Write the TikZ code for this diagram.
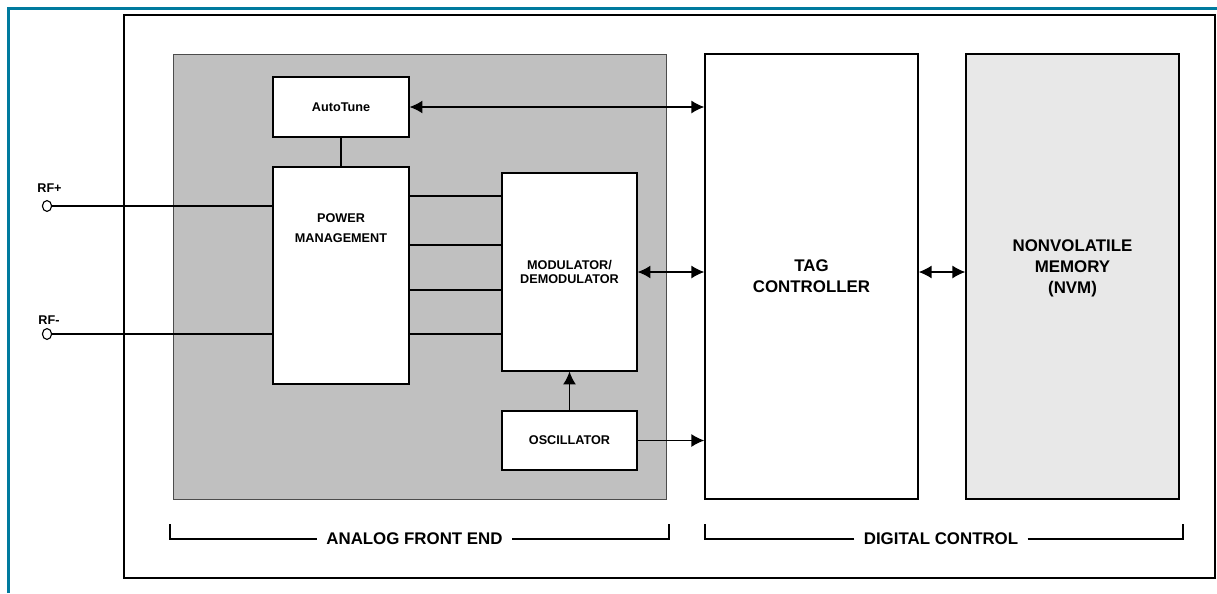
\documentclass[tikz,border=0pt]{standalone}
\usepackage{fontspec}
\setmainfont{Liberation Sans}
\usetikzlibrary{arrows.meta}
\usetikzlibrary{calc}

\definecolor{frameblue}{RGB}{0,122,158}
\definecolor{afegray}{RGB}{192,192,192}
\definecolor{nvmgray}{RGB}{232,232,232}

\tikzset{
  blk/.style = {draw, fill = white, line width = 0.8pt, inner sep = 0pt,
    align = center, font = \bfseries\fontsize{9}{10.6}\selectfont},
  big/.style = {font = \bfseries\fontsize{12}{15}\selectfont, align = center},
  lbl/.style = {font = \bfseries\fontsize{9}{10.6}\selectfont, inner sep = 0pt},
  port/.style = {draw, ellipse, fill = white, line width = 0.8pt,
    minimum width = 0.23cm, minimum height = 0.27cm, inner sep = 0pt},
  bus/.style = {line width = 0.8pt},
  arr/.style = {line width = 0.8pt, -{Latex[length = 0.32cm, width = 0.32cm]}},
  darr/.style = {line width = 0.8pt,
    {Latex[length = 0.32cm, width = 0.32cm]}-{Latex[length = 0.32cm, width = 0.32cm]}}
}

\usetikzlibrary{shapes.geometric}

\begin{document}
\begin{tikzpicture}[x = 0.025cm, y = -0.025cm]
  \useasboundingbox (0, 0) rectangle (1217, 593);

  % frame and chip outline
  \draw[frameblue, line width = 1.9pt] (8.5, 593) -- (8.5, 8.5) -- (1217, 8.5);
  \node[draw, line width = 1.6pt, inner sep = 0pt, minimum width = 27.275cm,
    minimum height = 14.075cm] (chip) at (669.5, 296.5) {};

  % analog front end
  \node[draw = black!70, fill = afegray, line width = 0.6pt, inner sep = 0pt,
    minimum width = 12.325cm, minimum height = 11.125cm] (afe) at (419.5, 276.5) {};
  \node[blk, minimum width = 3.4cm, minimum height = 1.5cm] (tune) at (341, 107)
  {AutoTune};
  \node[blk, minimum width = 3.4cm, minimum height = 5.425cm] (pm) at (341, 275.5) {};
  \node[font = \bfseries\fontsize{9}{14.2}\selectfont, align = center] (pmtext)
  at (341, 228) {POWER\\MANAGEMENT};
  \node[blk, minimum width = 3.375cm, minimum height = 4.95cm] (mod) at (569.5, 272)
  {MODULATOR/\\DEMODULATOR};
  \node[blk, minimum width = 3.375cm, minimum height = 1.475cm] (osc)
  at (569.5, 440.5) {OSCILLATOR};

  % digital control
  \node[blk, big, line width = 1pt, minimum width = 5.325cm,
    minimum height = 11.125cm] (tag) at (811.5, 276.5) {TAG\\CONTROLLER};
  \node[blk, fill = nvmgray, line width = 1pt, minimum width = 5.325cm,
    minimum height = 11.125cm] (nvm) at (1072.5, 276.5) {};
  \node[big] (nvmtext) at (1072.5, 268) {NONVOLATILE\\MEMORY\\(NVM)};

  % connections
  \draw[bus] (tune) -- (pm);
  \foreach \y in {196, 245, 290, 334}{
    \path (0, \y) coordinate (ly);
    \draw[bus] (pm.east |- ly) -- (mod.west |- ly);
  }
  \draw[arr] (osc) -- (mod);
  \draw[arr] (osc.east) -- (osc.east -| tag.west);
  \draw[darr] (tune.east) -- (tune.east -| tag.west);
  \draw[darr] (mod.east) -- (mod.east -| tag.west);
  \draw[darr] (mod.east -| tag.east) -- (mod.east -| nvm.west);

  % RF pins
  \node[port] (rfp) at (47, 206) {};
  \node[port] (rfm) at (47, 334) {};
  \node[lbl] (rfplbl) at (49.5, 188) {RF+};
  \node[lbl] (rfmlbl) at (49, 320) {RF-};
  \draw[bus] (rfp) -- (rfp -| pm.west);
  \draw[bus] (rfm) -- (rfm -| pm.west);

  % brackets
  \coordinate (afeL) at (170, 524);
  \coordinate (afeR) at (669, 524);
  \coordinate (dcL) at (705, 524);
  \coordinate (dcR) at (1183, 524);
  \node[big, inner xsep = 6.5pt] (afelbl) at (414.5, 539) {ANALOG FRONT END};
  \node[big, inner xsep = 6.5pt] (dclbl) at (941, 539) {DIGITAL CONTROL};
  \draw[bus] (afelbl.west) -| (afeL);
  \draw[bus] (afelbl.east) -| (afeR);
  \draw[bus] (dclbl.west) -| (dcL);
  \draw[bus] (dclbl.east) -| (dcR);
\end{tikzpicture}
\end{document}
